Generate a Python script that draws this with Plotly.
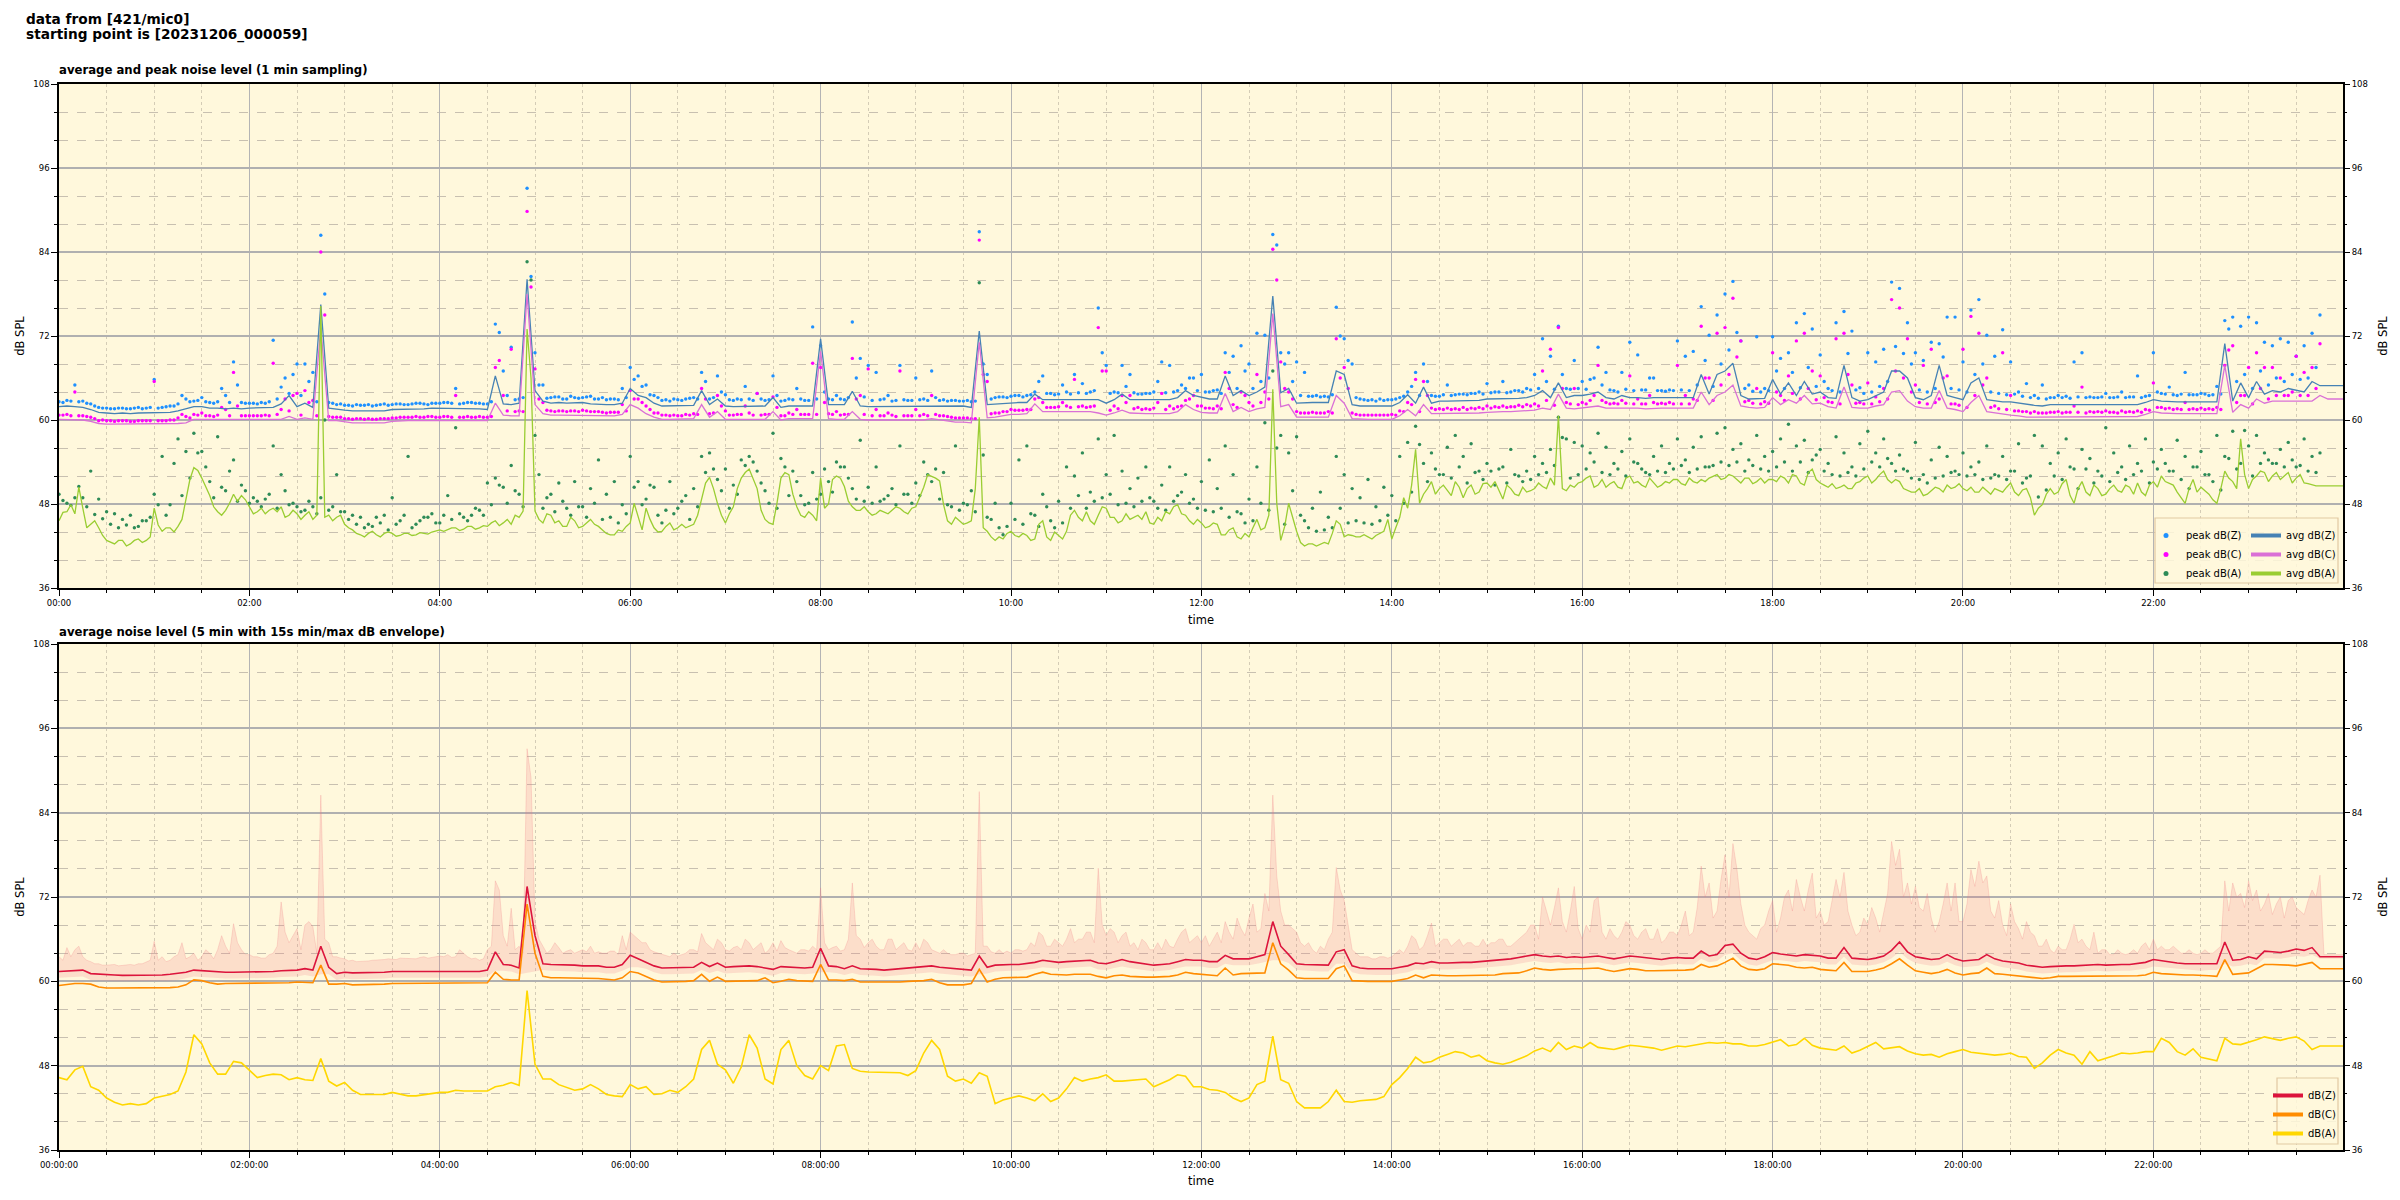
import pandas as pd
import plotly.graph_objects as go

START = "2023-12-06 00:00:00"
START_B = "2023-12-06 00:02:30"
END_VIEW = "2023-12-06 23:59:30"
STEP = "5min"
N = 289

# ---------------- top chart: 1 min sampling (read at 5 min steps) ----------------
avg_z = [
    61.9, 62.0, 61.9, 61.8, 61.5, 61.1, 61.0, 60.9, 61.0, 60.9, 61.0, 61.0,
    61.0, 61.0, 61.1, 61.3, 61.6, 61.9, 61.9, 61.7, 61.7, 61.6, 61.7, 61.6,
    61.7, 61.7, 61.7, 61.8, 62.3, 63.5, 61.9, 62.4, 61.8, 76.5, 61.7, 61.5,
    61.4, 61.3, 61.3, 61.3, 61.4, 61.3, 61.5, 61.5, 61.6, 61.5, 61.6, 61.7,
    61.7, 61.7, 61.6, 61.7, 61.7, 61.6, 61.5, 66.3, 62.3, 62.2, 62.4, 80.1,
    64.2, 62.7, 62.4, 62.5, 62.4, 62.4, 62.5, 62.3, 62.2, 62.2, 62.2, 62.4,
    64.5, 63.5, 63.2, 62.4, 62.0, 62.0, 62.0, 62.1, 62.1, 64.2, 62.2, 63.0,
    62.0, 61.9, 61.9, 62.0, 61.9, 62.0, 63.2, 61.8, 62.0, 62.0, 62.0, 62.0,
    71.6, 62.2, 62.2, 62.2, 64.1, 62.0, 61.9, 61.9, 61.9, 61.9, 61.9, 62.0,
    62.0, 62.0, 62.0, 62.0, 62.0, 62.0, 62.0, 61.8, 72.7, 62.2, 62.3, 62.3,
    62.5, 62.5, 62.5, 63.7, 62.9, 62.9, 62.9, 62.9, 62.9, 63.0, 63.0, 62.9,
    62.4, 62.9, 63.7, 62.9, 62.9, 62.9, 62.8, 62.9, 62.9, 63.2, 64.2, 63.5,
    63.2, 63.0, 63.0, 66.3, 63.5, 64.2, 63.5, 64.0, 64.7, 77.7, 63.9, 64.5,
    62.4, 62.5, 62.5, 62.5, 62.5, 67.0, 66.5, 62.2, 62.0, 62.0, 62.0, 62.0,
    62.0, 62.5, 63.6, 62.4, 64.7, 62.4, 62.7, 62.7, 62.7, 62.7, 62.8, 62.8,
    63.0, 63.0, 63.0, 63.0, 63.1, 63.2, 63.5, 64.2, 63.2, 65.3, 63.2, 63.5,
    63.5, 63.7, 64.0, 63.2, 63.0, 63.5, 63.2, 63.2, 63.1, 63.2, 63.2, 63.2,
    63.2, 63.2, 63.2, 66.5, 63.7, 66.5, 67.0, 68.1, 63.5, 63.0, 63.1, 63.1,
    65.8, 63.7, 65.3, 63.5, 65.5, 63.7, 64.0, 63.2, 63.1, 67.8, 63.2, 62.7,
    62.9, 63.5, 64.0, 67.0, 67.0, 66.0, 63.2, 62.9, 63.5, 67.8, 63.5, 63.2,
    62.9, 65.3, 66.0, 62.9, 62.7, 62.6, 62.6, 62.4, 62.2, 62.1, 62.0, 62.2,
    62.2, 62.2, 62.2, 62.2, 62.2, 62.2, 62.2, 62.2, 62.2, 62.2, 62.2, 62.5,
    62.9, 62.7, 62.6, 62.6, 62.6, 62.6, 62.6, 62.6, 62.6, 70.9, 62.7, 65.3,
    63.2, 65.5, 63.7, 64.2, 64.0, 64.5, 64.2, 64.0, 65.5, 64.9, 64.9, 64.9,
    64.9,
]
avg_c = [
    60.1, 60.1, 60.1, 60.0, 59.8, 59.5, 59.4, 59.4, 59.4, 59.4, 59.4, 59.4,
    59.4, 59.4, 59.4, 59.5, 59.6, 60.1, 60.1, 60.1, 60.0, 60.0, 60.1, 60.1,
    60.1, 60.1, 60.1, 60.1, 60.1, 60.5, 60.1, 60.3, 60.1, 73.2, 59.9, 59.9,
    59.7, 59.6, 59.6, 59.6, 59.6, 59.6, 59.8, 59.9, 59.9, 59.9, 59.9, 59.9,
    59.9, 59.9, 59.9, 59.9, 59.9, 59.9, 59.9, 62.4, 60.7, 60.6, 60.6, 78.0,
    62.2, 60.9, 60.7, 60.7, 60.7, 60.7, 60.7, 60.7, 60.6, 60.6, 60.6, 60.8,
    62.2, 61.7, 60.9, 60.4, 60.1, 60.1, 60.1, 60.1, 60.2, 62.2, 60.4, 61.2,
    60.1, 60.1, 60.1, 60.1, 60.1, 60.1, 61.2, 60.0, 60.2, 60.2, 60.2, 60.2,
    69.8, 60.2, 60.1, 60.1, 61.2, 60.1, 60.0, 60.0, 60.0, 59.9, 60.0, 60.0,
    60.0, 60.0, 60.2, 60.0, 59.8, 59.7, 59.7, 59.6, 71.1, 60.3, 60.4, 60.6,
    60.8, 60.8, 60.9, 62.3, 61.2, 61.2, 61.2, 61.2, 61.2, 61.2, 61.2, 61.0,
    60.7, 61.0, 61.4, 61.0, 60.9, 60.9, 60.9, 60.9, 60.9, 61.2, 62.2, 61.5,
    61.1, 61.0, 61.0, 63.8, 61.2, 61.8, 61.2, 61.6, 61.8, 75.2, 61.9, 62.2,
    60.4, 60.4, 60.4, 60.4, 60.4, 63.5, 62.4, 60.2, 60.1, 60.1, 60.1, 60.1,
    60.1, 60.6, 61.5, 60.6, 62.2, 60.9, 60.9, 60.9, 60.9, 60.9, 60.9, 61.0,
    61.1, 61.2, 61.2, 61.2, 61.3, 61.4, 61.4, 61.7, 61.5, 63.7, 61.7, 61.6,
    61.7, 61.8, 62.0, 61.7, 61.7, 61.8, 61.7, 61.7, 61.6, 61.7, 61.7, 61.7,
    61.7, 61.7, 61.7, 64.0, 62.2, 63.5, 64.0, 65.0, 62.0, 61.8, 61.7, 61.8,
    63.2, 62.2, 62.9, 62.4, 63.5, 62.3, 62.4, 61.9, 61.7, 64.7, 61.8, 61.7,
    61.7, 62.0, 62.2, 64.0, 64.2, 62.7, 61.9, 61.7, 61.7, 64.2, 61.7, 61.5,
    61.2, 62.5, 63.5, 61.2, 61.0, 60.9, 60.7, 60.6, 60.4, 60.4, 60.4, 60.5,
    60.4, 60.5, 60.5, 60.4, 60.5, 60.5, 60.5, 60.4, 60.5, 60.5, 60.5, 60.8,
    61.2, 61.0, 60.9, 60.9, 60.9, 60.9, 60.9, 60.9, 60.9, 67.8, 61.1, 62.2,
    61.7, 63.0, 62.4, 62.7, 62.7, 62.7, 62.7, 62.7, 62.7, 63.5, 63.0, 63.0,
    63.0,
]
avg_a = [
    45.6, 46.9, 46.6, 47.4, 45.1, 44.6, 42.8, 42.3, 42.8, 42.3, 43.0, 42.8,
    47.4, 44.1, 44.6, 44.8, 48.9, 53.2, 51.7, 49.2, 46.9, 47.1, 49.4, 49.2,
    47.6, 46.9, 46.6, 47.4, 47.6, 46.4, 46.6, 46.4, 45.8, 76.3, 46.4, 46.1,
    45.1, 44.3, 43.6, 43.8, 43.6, 43.8, 43.8, 43.5, 43.8, 43.6, 43.8, 44.0,
    44.3, 44.3, 44.6, 44.4, 44.8, 44.6, 44.8, 45.6, 45.3, 45.1, 46.1, 73.0,
    47.0, 45.3, 46.4, 45.6, 44.8, 45.6, 44.8, 45.8, 44.8, 43.8, 43.6, 44.1,
    45.3, 46.0, 47.4, 44.6, 44.1, 45.3, 44.6, 44.6, 45.1, 48.7, 51.8, 48.1,
    45.3, 47.6, 51.7, 53.0, 50.2, 45.8, 45.1, 51.7, 52.2, 47.6, 46.1, 46.4,
    51.7, 48.0, 52.0, 50.5, 47.6, 47.1, 46.9, 46.6, 46.9, 47.1, 47.4, 46.6,
    47.6, 50.4, 52.0, 51.3, 45.6, 46.1, 45.1, 45.6, 60.4, 44.1, 42.8, 43.0,
    44.1, 43.3, 43.5, 43.0, 45.6, 42.8, 43.5, 44.1, 47.1, 45.6, 45.6, 46.4,
    47.4, 46.1, 45.6, 45.8, 46.4, 46.9, 45.1, 45.6, 46.6, 47.9, 46.4, 45.1,
    45.3, 44.8, 45.1, 43.6, 44.6, 43.0, 43.3, 45.8, 44.6, 64.4, 42.8, 48.1,
    44.1, 42.0, 42.3, 42.3, 42.3, 45.6, 43.3, 43.5, 43.3, 43.3, 43.5, 44.1,
    43.0, 46.1, 47.4, 55.8, 49.4, 51.2, 50.2, 49.9, 51.2, 48.9, 50.7, 49.7,
    51.0, 51.2, 48.7, 50.2, 49.2, 49.7, 50.2, 50.5, 51.7, 60.6, 49.9, 50.4,
    51.2, 52.0, 50.7, 50.4, 51.2, 50.2, 52.0, 51.2, 50.4, 51.0, 50.7, 51.0,
    51.5, 50.7, 51.2, 51.5, 51.7, 52.2, 51.7, 52.0, 51.0, 51.7, 51.2, 51.0,
    51.5, 52.0, 51.0, 52.0, 50.7, 53.0, 51.0, 50.4, 50.2, 50.7, 50.2, 51.2,
    52.0, 51.5, 52.7, 51.0, 51.2, 49.9, 49.7, 49.2, 49.9, 50.2, 50.7, 50.4,
    50.2, 50.4, 49.7, 49.9, 50.2, 49.7, 51.0, 49.2, 50.2, 46.4, 47.9, 50.2,
    49.7, 51.5, 48.1, 51.2, 49.2, 50.2, 49.4, 50.7, 49.7, 50.4, 51.0, 49.2,
    51.2, 52.0, 51.0, 49.7, 48.1, 51.5, 50.4, 49.4, 48.1, 52.7, 51.2, 57.3,
    50.2, 52.0, 52.5, 52.0, 51.5, 52.5, 51.7, 51.0, 50.7, 50.6, 50.6, 50.6,
    50.6,
]
# avg dB(A) read half-way between the 5-min marks (2.5 min later)
avg_a_b = [
    46.8, 47.9, 50.4, 44.6, 45.6, 43.5, 42.5, 42.8, 42.0, 42.8, 42.5, 43.3,
    45.0, 44.6, 44.0, 45.8, 51.5, 52.8, 50.4, 47.6, 46.4, 48.1, 48.4, 48.6,
    46.6, 47.4, 47.1, 46.9, 46.1, 47.1, 45.8, 46.9, 46.4, 46.1, 45.6, 46.4,
    44.6, 43.8, 43.3, 44.1, 43.3, 44.0, 43.4, 43.8, 43.5, 43.9, 43.7, 44.2,
    44.1, 44.6, 44.2, 44.8, 44.4, 44.9, 45.3, 44.9, 45.8, 46.4, 47.0, 66.0,
    45.8, 46.6, 45.3, 44.8, 46.1, 44.6, 45.3, 45.1, 44.3, 43.6, 44.3, 44.8,
    48.1, 44.3, 45.8, 44.0, 44.8, 44.3, 45.1, 44.8, 46.4, 51.0, 50.2, 46.4,
    46.6, 50.2, 52.5, 51.7, 47.1, 45.3, 48.1, 52.5, 49.4, 46.4, 46.9, 45.6,
    47.4, 51.5, 51.7, 48.4, 47.1, 47.6, 46.4, 47.1, 46.6, 47.6, 46.9, 47.4,
    48.9, 52.2, 51.7, 47.9, 45.1, 45.6, 45.3, 50.2, 44.6, 43.3, 43.3, 43.8,
    43.5, 43.8, 42.8, 45.1, 43.3, 44.0, 43.0, 46.4, 46.1, 46.9, 45.1, 47.6,
    46.1, 45.3, 46.6, 46.1, 45.8, 45.3, 46.1, 46.9, 47.6, 46.6, 45.6, 45.8,
    44.6, 45.3, 43.6, 44.3, 43.3, 43.8, 44.6, 44.3, 46.4, 48.1, 44.8, 46.1,
    42.5, 42.3, 42.0, 42.5, 43.8, 45.1, 43.6, 43.3, 43.6, 43.0, 43.8, 45.8,
    44.6, 48.9, 50.7, 48.1, 50.2, 49.4, 50.7, 49.2, 50.4, 50.2, 49.4, 50.9,
    50.4, 49.9, 50.7, 49.4, 50.4, 49.9, 51.0, 50.2, 50.7, 50.2, 50.7, 51.0,
    51.7, 50.4, 51.5, 50.9, 50.4, 51.7, 51.0, 50.7, 51.7, 50.4, 51.2, 51.5,
    50.9, 51.7, 51.0, 51.2, 52.0, 51.5, 52.2, 51.5, 51.7, 50.9, 51.7, 51.5,
    51.2, 51.7, 52.2, 51.0, 52.5, 51.5, 50.7, 50.9, 50.4, 50.2, 51.0, 51.7,
    51.0, 52.2, 51.5, 51.5, 50.2, 49.7, 50.2, 49.4, 50.4, 49.7, 50.2, 50.9,
    49.9, 49.7, 50.4, 49.4, 49.9, 50.4, 49.7, 50.0, 48.9, 47.4, 49.4, 49.4,
    50.9, 49.2, 50.2, 49.7, 50.7, 49.2, 50.2, 49.9, 50.7, 49.4, 49.7, 50.7,
    50.4, 51.2, 50.7, 48.9, 50.2, 49.7, 49.9, 48.6, 50.2, 51.7, 50.2, 52.2,
    51.5, 52.7, 51.2, 52.5, 52.0, 51.0, 52.2, 50.9, 50.6, 50.6, 50.6, 50.6,
    50.6,
]
# peaks read on the 5-min marks ...
peak_z = [
    62.6, 62.8, 65.0, 62.7, 62.3, 61.8, 61.7, 61.6, 61.7, 61.6, 61.8, 61.7,
    65.8, 61.8, 62.0, 62.3, 63.0, 62.7, 63.2, 62.5, 62.6, 63.5, 68.3, 62.5,
    62.4, 62.3, 62.4, 71.4, 64.7, 63.8, 68.0, 68.0, 66.8, 86.4, 62.5, 62.2,
    62.1, 62.0, 62.1, 62.2, 62.1, 62.3, 62.2, 62.3, 62.2, 62.4, 62.3, 62.4,
    62.4, 62.5, 64.5, 62.4, 62.5, 62.4, 62.3, 73.7, 67.0, 70.4, 63.0, 93.1,
    69.6, 65.0, 63.2, 63.3, 63.0, 63.2, 63.2, 63.4, 63.0, 62.9, 63.0, 64.5,
    67.5, 66.3, 65.0, 63.5, 62.8, 62.7, 62.9, 63.0, 63.2, 66.8, 63.0, 66.3,
    63.6, 62.8, 62.9, 63.0, 63.8, 62.8, 66.3, 62.7, 63.0, 64.5, 62.8, 73.3,
    70.6, 63.0, 63.5, 62.9, 74.0, 68.8, 67.8, 66.8, 63.0, 62.7, 67.8, 62.8,
    66.0, 63.0, 67.0, 62.8, 62.7, 62.8, 62.7, 62.6, 86.9, 66.5, 63.2, 63.3,
    63.4, 63.5, 63.5, 64.0, 66.3, 63.8, 63.7, 64.0, 66.5, 65.2, 64.0, 76.0,
    67.8, 64.0, 67.8, 66.5, 63.7, 63.8, 64.0, 68.3, 67.8, 64.2, 64.5, 66.0,
    66.5, 64.0, 64.3, 69.6, 69.1, 70.6, 68.0, 72.4, 72.1, 86.5, 69.6, 69.6,
    68.3, 66.8, 63.4, 63.3, 63.3, 76.1, 71.6, 68.0, 63.0, 62.8, 62.7, 62.8,
    62.9, 63.2, 64.0, 66.8, 68.0, 63.5, 63.4, 65.0, 63.6, 63.7, 63.8, 64.0,
    65.2, 64.0, 65.5, 64.0, 64.2, 64.5, 66.5, 71.6, 69.1, 73.4, 64.5, 68.5,
    65.5, 65.8, 70.4, 66.8, 64.2, 66.8, 71.1, 69.3, 64.3, 66.0, 64.2, 64.3,
    71.3, 69.1, 69.8, 76.2, 72.1, 75.0, 78.0, 79.8, 71.3, 65.0, 71.9, 64.5,
    71.9, 68.8, 69.6, 73.9, 75.2, 73.0, 69.3, 64.5, 73.9, 75.5, 72.7, 64.6,
    69.6, 68.3, 70.1, 79.7, 78.8, 73.9, 69.6, 68.5, 71.1, 70.9, 74.7, 74.7,
    68.3, 75.7, 77.2, 72.1, 69.1, 72.9, 68.3, 64.0, 65.2, 63.5, 65.0, 63.2,
    63.5, 63.4, 68.3, 69.6, 63.3, 63.2, 63.8, 63.2, 64.0, 63.3, 66.3, 63.4,
    69.6, 63.8, 64.7, 63.5, 66.8, 63.6, 63.8, 63.5, 64.8, 74.2, 74.7, 73.4,
    74.7, 73.9, 71.1, 70.6, 71.6, 71.1, 69.1, 70.6, 72.4, 75.0, None, None,
    None,
]
peak_c = [
    60.7, 60.8, 64.0, 60.6, 60.4, 59.9, 59.9, 59.8, 59.9, 59.8, 59.9, 59.9,
    65.5, 59.9, 60.0, 60.3, 60.5, 60.8, 61.0, 60.6, 60.7, 61.5, 66.8, 60.6,
    60.6, 60.6, 60.7, 68.1, 61.5, 61.3, 63.8, 64.2, 62.8, 84.0, 60.5, 60.4,
    60.2, 60.1, 60.2, 60.2, 60.1, 60.2, 60.3, 60.4, 60.4, 60.5, 60.4, 60.5,
    60.4, 60.5, 63.5, 60.4, 60.4, 60.5, 60.4, 67.5, 63.5, 70.1, 61.3, 89.8,
    67.3, 62.5, 61.3, 61.3, 61.2, 61.3, 61.4, 61.2, 61.2, 61.0, 61.1, 62.2,
    64.2, 63.0, 62.0, 61.0, 60.7, 60.6, 60.6, 60.8, 60.9, 64.5, 60.9, 63.5,
    61.3, 60.7, 60.8, 61.0, 63.8, 60.8, 63.3, 60.6, 61.0, 61.5, 60.8, 68.1,
    67.5, 60.9, 61.2, 60.8, 68.8, 63.5, 67.3, 61.5, 60.6, 60.7, 67.0, 60.6,
    61.5, 60.8, 63.5, 60.6, 60.5, 60.3, 60.3, 60.2, 85.7, 65.5, 61.0, 61.2,
    61.5, 61.4, 61.5, 63.0, 62.5, 61.8, 61.9, 62.0, 65.8, 62.0, 61.9, 73.2,
    67.0, 62.0, 63.5, 63.5, 61.8, 61.6, 61.7, 63.8, 62.0, 61.9, 62.8, 63.5,
    62.0, 61.7, 62.0, 66.8, 62.2, 64.0, 62.5, 66.5, 64.0, 84.4, 68.3, 64.0,
    61.2, 61.0, 61.1, 61.0, 61.2, 71.6, 67.5, 61.0, 60.7, 60.7, 60.7, 60.7,
    60.8, 61.3, 62.5, 65.8, 65.5, 61.7, 61.6, 61.7, 61.6, 61.8, 61.7, 61.8,
    62.0, 61.9, 62.0, 61.9, 62.1, 62.2, 62.3, 67.0, 70.1, 73.2, 62.5, 64.5,
    62.5, 62.8, 67.8, 62.5, 62.4, 62.8, 66.3, 63.0, 62.3, 62.5, 62.4, 62.5,
    67.8, 63.5, 63.0, 73.4, 66.0, 72.4, 73.2, 77.4, 71.3, 62.8, 64.5, 62.6,
    69.6, 63.5, 66.3, 71.3, 72.4, 67.0, 66.3, 62.6, 71.6, 72.4, 65.0, 62.5,
    65.3, 63.3, 64.5, 77.2, 76.0, 71.6, 65.0, 67.8, 70.1, 63.0, 66.3, 62.3,
    70.1, 74.8, 72.4, 66.0, 62.0, 69.6, 63.5, 61.3, 61.2, 61.2, 61.0, 61.1,
    61.2, 61.1, 62.0, 64.7, 61.2, 61.2, 61.3, 61.1, 61.3, 61.2, 61.3, 61.5,
    65.3, 61.8, 61.7, 61.6, 62.5, 61.6, 61.7, 61.6, 61.8, 67.8, 70.6, 63.5,
    67.5, 69.6, 67.5, 67.5, 66.0, 63.5, 69.1, 66.8, 67.5, 70.9, None, None,
    None,
]
peak_a = [
    49.4, 48.1, 48.9, 48.9, 52.7, 48.7, 46.9, 46.6, 45.8, 46.4, 44.8, 45.6,
    49.4, 54.8, 47.9, 57.3, 55.5, 58.1, 55.5, 51.2, 57.6, 49.9, 54.3, 50.7,
    48.1, 48.4, 48.7, 56.3, 52.2, 47.9, 47.6, 47.1, 47.6, 48.9, 47.1, 52.2,
    46.9, 46.4, 46.1, 45.1, 46.1, 46.4, 48.9, 45.6, 54.8, 45.1, 46.1, 46.6,
    45.3, 49.2, 58.9, 46.1, 46.4, 47.1, 51.0, 51.7, 50.4, 53.5, 49.4, 82.6,
    57.8, 47.4, 49.4, 51.0, 47.4, 51.2, 47.6, 50.2, 54.3, 49.4, 51.2, 47.9,
    54.8, 51.2, 48.7, 50.4, 45.3, 51.2, 47.4, 49.2, 50.2, 54.8, 55.3, 51.5,
    53.0, 50.7, 54.3, 54.8, 52.7, 49.9, 58.1, 54.5, 49.2, 51.2, 47.9, 52.5,
    49.4, 51.2, 54.0, 53.3, 50.2, 57.1, 50.4, 53.3, 48.7, 50.2, 56.3, 49.4,
    51.0, 54.0, 51.2, 48.7, 47.9, 56.3, 48.1, 49.9, 79.6, 46.1, 48.1, 43.6,
    48.1, 54.3, 56.3, 46.4, 49.4, 45.6, 48.4, 53.3, 52.0, 55.3, 49.7, 57.3,
    52.2, 57.8, 52.7, 50.2, 51.7, 53.3, 48.4, 50.7, 53.3, 49.2, 52.2, 48.7,
    51.2, 54.3, 50.2, 56.3, 52.2, 46.6, 48.7, 53.3, 59.6, 67.0, 57.8, 55.3,
    57.6, 45.6, 47.4, 49.7, 46.1, 54.8, 52.2, 50.2, 48.9, 51.5, 47.6, 50.4,
    49.2, 54.8, 56.8, 59.1, 53.8, 55.3, 52.2, 56.1, 57.8, 54.8, 56.6, 52.7,
    53.8, 50.7, 53.3, 55.8, 52.0, 52.7, 54.8, 53.8, 55.8, 60.4, 57.3, 56.8,
    56.3, 55.3, 58.1, 56.1, 53.8, 55.5, 57.3, 53.8, 52.5, 54.8, 56.3, 53.8,
    57.3, 54.3, 56.1, 57.6, 53.3, 58.1, 58.9, 55.8, 56.6, 54.3, 57.8, 54.8,
    55.5, 57.3, 59.4, 56.3, 57.1, 54.3, 55.8, 53.8, 57.6, 55.3, 53.3, 56.6,
    58.4, 55.3, 57.3, 53.8, 55.0, 52.7, 56.8, 52.2, 54.3, 56.1, 54.8, 52.7,
    55.3, 53.3, 54.0, 56.3, 52.2, 54.8, 52.7, 56.6, 51.7, 57.8, 56.3, 53.8,
    55.3, 57.3, 53.0, 55.8, 54.5, 52.7, 58.9, 55.3, 53.3, 56.3, 53.8, 57.3,
    54.0, 55.8, 52.7, 57.1, 54.8, 53.3, 55.5, 52.2, 57.8, 54.8, 58.4, 53.8,
    56.3, 57.8, 55.3, 53.8, 55.8, 56.8, 53.3, 57.3, 54.8, 55.3, None, None,
    None,
]
# ... and half-way between them (2.5 min later)
peak_z_b = [
    62.5, 62.7, 62.6, 62.4, 62.0, 61.7, 61.6, 61.7, 61.6, 61.7, 61.6, 61.8,
    61.7, 61.9, 62.0, 63.5, 62.6, 62.8, 62.6, 62.4, 64.5, 62.5, 65.0, 62.4,
    62.4, 62.5, 62.6, 63.0, 66.0, 66.5, 63.5, 65.5, 62.6, 78.0, 62.4, 62.3,
    62.1, 62.2, 62.1, 62.0, 62.2, 62.1, 62.3, 62.2, 62.3, 62.4, 62.2, 62.4,
    62.5, 62.4, 62.3, 62.5, 62.4, 62.3, 62.6, 72.5, 63.5, 62.9, 63.2, 80.5,
    65.0, 63.1, 63.3, 63.0, 63.4, 63.1, 63.3, 63.0, 63.2, 63.0, 62.9, 63.2,
    65.8, 64.8, 63.6, 63.2, 62.9, 63.0, 62.8, 63.1, 63.0, 65.5, 63.2, 64.0,
    62.9, 63.0, 64.8, 62.8, 63.0, 62.9, 63.5, 62.8, 62.9, 63.0, 62.8, 63.0,
    64.0, 62.9, 63.0, 63.2, 66.0, 63.3, 62.8, 62.9, 63.5, 62.8, 62.9, 62.8,
    62.9, 62.8, 63.2, 62.9, 62.8, 62.7, 62.8, 62.7, 68.0, 63.0, 63.3, 63.2,
    63.5, 63.3, 63.6, 65.5, 63.8, 63.6, 65.0, 63.7, 63.9, 63.8, 64.2, 69.6,
    63.8, 63.9, 64.8, 63.9, 63.7, 63.8, 65.5, 63.9, 64.0, 65.0, 66.0, 64.2,
    64.0, 64.2, 63.8, 66.8, 64.5, 67.0, 64.5, 65.5, 66.0, 85.0, 68.0, 65.5,
    63.5, 63.4, 63.5, 63.4, 63.6, 72.0, 68.5, 63.2, 62.9, 62.9, 63.0, 62.9,
    63.0, 63.4, 64.8, 63.5, 65.5, 63.4, 63.6, 63.5, 63.7, 63.6, 63.8, 63.7,
    63.9, 64.0, 63.9, 64.2, 64.0, 64.3, 64.5, 65.5, 64.4, 66.5, 64.4, 64.5,
    64.4, 66.0, 65.0, 64.3, 64.0, 64.4, 64.2, 64.3, 66.0, 64.2, 64.1, 64.2,
    64.3, 64.2, 65.0, 68.5, 64.8, 68.0, 70.0, 72.5, 64.5, 64.1, 64.0, 64.2,
    67.0, 64.5, 66.8, 64.6, 67.5, 64.8, 65.5, 64.2, 64.0, 69.5, 64.3, 63.8,
    64.0, 64.8, 65.5, 70.5, 69.5, 68.0, 64.3, 64.0, 64.5, 69.0, 64.5, 64.3,
    64.0, 66.5, 68.0, 64.0, 63.8, 63.6, 63.7, 63.4, 63.2, 63.1, 63.0, 63.2,
    63.2, 63.1, 63.3, 63.2, 63.2, 63.3, 63.2, 63.3, 63.2, 63.3, 63.2, 63.5,
    64.0, 63.7, 63.6, 63.7, 63.6, 63.6, 63.7, 63.6, 63.7, 73.0, 65.5, 66.5,
    64.5, 67.0, 65.0, 66.0, 65.5, 66.5, 65.8, 66.0, 67.5, None, None, None,
    None,
]
peak_c_b = [
    60.7, 60.6, 60.6, 60.5, 60.2, 60.0, 59.9, 59.9, 59.9, 59.8, 59.9, 59.9,
    59.9, 59.9, 60.0, 60.8, 60.3, 60.7, 60.6, 60.5, 61.8, 60.6, 62.0, 60.6,
    60.6, 60.6, 60.6, 60.8, 63.0, 63.5, 60.7, 62.5, 60.6, 75.0, 60.4, 60.4,
    60.2, 60.2, 60.1, 60.1, 60.2, 60.2, 60.3, 60.4, 60.4, 60.4, 60.5, 60.4,
    60.5, 60.4, 60.4, 60.5, 60.4, 60.4, 60.5, 68.5, 61.3, 61.2, 61.2, 79.0,
    63.0, 61.4, 61.2, 61.3, 61.3, 61.2, 61.3, 61.2, 61.1, 61.1, 61.1, 61.3,
    63.0, 62.5, 61.5, 61.0, 60.7, 60.7, 60.6, 60.7, 60.8, 63.0, 61.0, 62.0,
    60.7, 60.8, 62.0, 60.7, 60.7, 60.8, 61.8, 60.6, 60.8, 60.8, 60.8, 60.8,
    62.5, 60.8, 60.7, 60.8, 63.0, 60.8, 60.6, 60.6, 61.0, 60.5, 60.6, 60.6,
    60.6, 60.6, 60.8, 60.6, 60.4, 60.3, 60.3, 60.2, 66.5, 60.9, 61.0, 61.2,
    61.4, 61.4, 61.5, 63.2, 61.8, 61.8, 62.5, 61.8, 61.9, 61.8, 62.0, 67.0,
    61.4, 61.6, 62.5, 61.6, 61.5, 61.5, 62.5, 61.5, 61.6, 62.0, 63.0, 62.0,
    61.7, 61.6, 61.6, 64.5, 61.8, 63.5, 62.0, 62.5, 63.0, 80.0, 64.5, 63.0,
    61.0, 61.0, 61.0, 61.0, 61.0, 66.0, 64.5, 60.8, 60.7, 60.7, 60.7, 60.7,
    60.7, 61.2, 62.2, 61.2, 63.5, 61.5, 61.5, 61.5, 61.5, 61.5, 61.6, 61.6,
    61.7, 61.8, 61.8, 61.9, 61.9, 62.0, 62.0, 62.8, 62.1, 64.5, 62.3, 62.2,
    62.3, 63.5, 62.8, 62.3, 62.3, 62.4, 62.3, 62.3, 63.5, 62.3, 62.3, 62.3,
    62.3, 62.3, 62.8, 66.0, 62.8, 65.0, 66.5, 69.0, 62.6, 62.4, 62.3, 62.4,
    64.0, 62.8, 63.8, 63.0, 64.5, 62.9, 63.2, 62.5, 62.3, 66.5, 62.4, 62.3,
    62.3, 62.6, 63.0, 67.0, 66.0, 64.0, 62.5, 62.3, 62.5, 66.0, 62.3, 62.1,
    61.8, 63.5, 65.0, 61.8, 61.6, 61.5, 61.3, 61.2, 61.0, 61.0, 61.0, 61.1,
    61.0, 61.1, 61.1, 61.0, 61.1, 61.1, 61.1, 61.0, 61.1, 61.1, 61.1, 61.4,
    61.8, 61.6, 61.5, 61.5, 61.5, 61.5, 61.5, 61.5, 61.5, 70.0, 62.5, 63.5,
    62.3, 64.5, 63.0, 63.5, 63.5, 64.0, 63.5, 63.5, 64.5, None, None, None,
    None,
]
peak_a_b = [
    48.5, 47.8, 50.5, 47.6, 46.5, 45.9, 45.1, 44.6, 45.0, 44.6, 45.6, 46.1,
    47.9, 46.4, 53.8, 49.2, 51.7, 55.3, 53.3, 48.9, 50.4, 52.7, 48.4, 49.9,
    48.9, 47.6, 49.4, 47.4, 49.9, 48.1, 46.9, 48.4, 46.6, 60.0, 47.6, 46.9,
    45.8, 45.1, 44.6, 44.8, 45.3, 44.3, 45.1, 46.4, 44.6, 45.6, 46.1, 45.3,
    46.4, 45.8, 46.6, 45.6, 47.4, 46.4, 47.9, 50.7, 48.1, 49.9, 47.6, 80.0,
    52.2, 48.9, 46.9, 48.4, 46.4, 47.6, 46.1, 48.1, 45.8, 46.1, 45.3, 46.6,
    50.4, 47.9, 50.7, 46.4, 47.1, 46.6, 48.4, 45.8, 47.6, 52.5, 53.0, 49.9,
    47.4, 49.4, 53.5, 54.0, 51.0, 48.1, 47.4, 53.3, 52.7, 49.2, 48.1, 48.7,
    53.0, 49.7, 53.3, 51.7, 48.7, 48.4, 48.1, 48.4, 49.2, 47.9, 49.4, 48.1,
    49.2, 52.2, 53.0, 52.5, 47.6, 47.1, 47.9, 46.9, 55.0, 45.8, 44.6, 44.8,
    45.8, 45.1, 46.6, 44.8, 47.6, 44.6, 45.3, 47.4, 49.2, 47.4, 48.4, 48.9,
    49.4, 47.9, 48.1, 47.6, 48.4, 48.9, 47.4, 47.1, 48.4, 49.7, 48.1, 47.4,
    47.1, 46.9, 47.4, 46.1, 46.9, 45.3, 45.6, 48.1, 47.1, 56.0, 45.1, 49.9,
    46.4, 44.6, 44.1, 44.3, 44.6, 47.4, 45.3, 45.6, 45.3, 45.1, 45.6, 46.4,
    45.6, 48.1, 49.7, 56.5, 51.2, 53.0, 52.2, 51.7, 53.3, 51.0, 52.5, 51.5,
    52.7, 53.0, 51.0, 52.2, 51.2, 51.5, 52.2, 52.5, 53.5, 57.5, 51.7, 52.2,
    53.0, 54.0, 52.5, 52.2, 53.0, 52.0, 54.0, 53.0, 52.2, 52.7, 52.5, 53.0,
    53.5, 52.5, 53.0, 53.3, 53.5, 54.0, 53.5, 54.0, 52.7, 53.5, 53.0, 52.7,
    53.3, 54.0, 52.7, 54.0, 52.5, 55.0, 52.7, 52.2, 52.0, 52.5, 52.0, 53.0,
    54.0, 53.3, 54.5, 52.7, 53.0, 51.7, 51.5, 51.0, 51.7, 52.0, 52.5, 52.2,
    52.0, 52.2, 51.5, 51.7, 52.0, 51.5, 52.7, 51.0, 52.0, 49.0, 50.0, 52.0,
    51.5, 53.3, 50.2, 53.0, 51.0, 52.0, 51.2, 52.5, 51.5, 52.2, 52.7, 51.0,
    53.0, 53.8, 52.7, 51.5, 50.2, 53.3, 52.2, 51.2, 50.0, 54.5, 53.0, 58.5,
    52.0, 53.8, 54.3, 53.8, 53.3, 54.3, 53.5, 52.7, 52.5, None, None, None,
    None,
]

# ---------------- bottom chart: 5 min averages + 15 s envelope ----------------
lvl_z = [
    61.4, 61.5, 61.6, 61.6, 61.1, 61.0, 60.9, 60.9, 60.85, 60.85, 60.85, 60.85,
    60.9, 60.9, 61.0, 61.1, 61.3, 61.6, 61.5, 61.4, 61.4, 61.3, 61.3, 61.3,
    61.3, 61.3, 61.4, 61.4, 61.5, 61.5, 61.6, 61.8, 61.6, 65.0, 62.0, 61.1,
    61.3, 61.2, 61.2, 61.3, 61.3, 61.3, 61.4, 61.4, 61.4, 61.5, 61.5, 61.5,
    61.5, 61.5, 61.5, 61.5, 61.4, 61.4, 61.6, 64.2, 62.4, 62.3, 61.9, 73.5,
    66.5, 62.5, 62.4, 62.4, 62.4, 62.3, 62.2, 62.2, 62.2, 62.0, 62.0, 62.4,
    63.7, 63.2, 62.7, 62.2, 61.9, 61.9, 61.9, 62.0, 62.0, 62.7, 62.1, 62.6,
    62.0, 62.1, 62.2, 62.2, 62.1, 61.9, 61.7, 62.1, 62.0, 61.9, 61.9, 62.0,
    64.7, 62.2, 62.1, 61.8, 62.2, 61.8, 61.8, 61.7, 61.6, 61.7, 61.8, 61.9,
    61.9, 62.0, 62.2, 62.0, 61.9, 61.8, 61.8, 61.6, 63.6, 62.0, 62.3, 62.4,
    62.4, 62.4, 62.5, 62.7, 63.0, 62.8, 62.7, 62.8, 62.9, 63.0, 63.0, 62.6,
    62.5, 62.8, 63.1, 62.8, 62.6, 62.5, 62.3, 62.4, 62.5, 62.8, 63.1, 63.0,
    63.0, 62.8, 62.8, 63.7, 63.2, 63.2, 63.2, 63.5, 63.8, 68.5, 65.0, 63.8,
    62.5, 62.4, 62.4, 62.3, 62.3, 64.2, 64.5, 62.2, 61.9, 61.8, 61.8, 61.8,
    61.8, 62.0, 62.2, 62.6, 62.5, 62.8, 62.6, 62.6, 62.7, 62.7, 62.7, 62.8,
    62.8, 62.9, 63.0, 63.2, 63.4, 63.6, 63.8, 63.6, 63.5, 63.6, 63.4, 63.5,
    63.4, 63.5, 63.6, 63.4, 63.2, 63.4, 63.6, 63.5, 63.4, 63.2, 63.1, 63.3,
    63.4, 63.3, 63.3, 64.3, 63.6, 63.8, 65.1, 65.3, 64.0, 63.3, 63.1, 63.5,
    64.1, 63.9, 63.8, 63.6, 63.8, 63.7, 63.6, 63.3, 63.3, 64.8, 63.3, 63.2,
    63.1, 63.3, 63.6, 64.4, 65.6, 64.2, 63.5, 63.3, 63.1, 63.2, 63.8, 63.2,
    62.9, 63.0, 63.1, 63.8, 63.2, 62.9, 62.8, 62.6, 62.3, 62.1, 62.0, 62.1,
    62.2, 62.2, 62.2, 62.3, 62.4, 62.4, 62.3, 62.4, 62.4, 62.4, 62.5, 62.7,
    63.1, 62.9, 62.7, 62.6, 62.5, 62.5, 62.4, 62.5, 62.5, 65.6, 63.0, 63.1,
    63.5, 63.2, 64.3, 64.2, 64.1, 64.3, 64.6, 64.4, 64.8, 63.5, 63.5, 63.5,
    63.5,
]
lvl_c = [
    59.4, 59.6, 59.7, 59.7, 59.6, 59.2, 59.05, 59.05, 59.05, 59.05, 59.05, 59.05,
    59.1, 59.1, 59.1, 59.2, 59.5, 60.2, 60.1, 59.8, 59.6, 59.7, 59.7, 59.7,
    59.7, 59.7, 59.8, 59.8, 59.8, 59.8, 59.9, 59.8, 59.8, 62.3, 59.6, 59.6,
    59.7, 59.5, 59.5, 59.6, 59.6, 59.6, 59.7, 59.7, 59.7, 59.7, 59.8, 59.8,
    59.8, 59.8, 59.8, 59.8, 59.7, 59.7, 59.8, 61.3, 60.3, 60.2, 60.2, 71.0,
    64.0, 60.7, 60.5, 60.5, 60.5, 60.5, 60.5, 60.4, 60.4, 60.3, 60.2, 60.5,
    61.4, 61.2, 60.7, 60.2, 59.9, 59.9, 59.9, 60.0, 60.1, 61.0, 60.0, 60.6,
    60.0, 60.0, 60.0, 60.1, 60.1, 60.5, 59.8, 60.0, 60.3, 60.1, 60.0, 60.0,
    62.4, 60.2, 60.2, 60.1, 60.3, 59.9, 59.9, 59.9, 59.8, 59.9, 59.9, 60.0,
    60.0, 60.1, 60.3, 59.8, 59.5, 59.5, 59.5, 59.7, 61.7, 59.9, 60.3, 60.5,
    60.5, 60.6, 60.6, 61.0, 61.3, 61.0, 60.9, 60.9, 61.0, 61.0, 61.0, 60.7,
    60.5, 60.8, 60.9, 60.7, 60.6, 60.6, 60.6, 60.6, 60.7, 60.9, 61.3, 61.1,
    61.0, 60.9, 60.8, 61.9, 60.9, 61.1, 61.1, 61.1, 61.2, 65.5, 62.5, 61.6,
    60.5, 60.4, 60.4, 60.4, 60.4, 61.8, 62.2, 60.1, 60.0, 60.0, 60.0, 60.0,
    60.0, 60.2, 60.4, 60.9, 60.5, 60.9, 60.8, 60.8, 60.8, 60.8, 60.8, 60.8,
    60.8, 60.9, 61.1, 61.1, 61.2, 61.5, 61.9, 61.7, 61.6, 61.7, 61.8, 61.8,
    61.8, 61.8, 61.9, 61.6, 61.4, 61.6, 61.8, 61.7, 61.5, 61.5, 61.5, 61.6,
    61.6, 61.6, 61.7, 62.4, 62.0, 62.2, 62.7, 63.3, 62.2, 61.7, 61.6, 61.8,
    62.5, 62.4, 62.3, 62.0, 61.9, 62.0, 61.7, 61.6, 61.5, 62.7, 61.4, 61.4,
    61.4, 61.6, 61.9, 62.5, 63.2, 62.3, 61.5, 61.3, 61.1, 61.3, 61.7, 61.2,
    60.9, 61.1, 61.2, 61.9, 61.1, 61.0, 60.9, 60.8, 60.7, 60.5, 60.4, 60.5,
    60.7, 60.7, 60.7, 60.7, 60.7, 60.7, 60.7, 60.7, 60.8, 60.8, 60.8, 60.9,
    61.3, 61.1, 61.0, 61.0, 60.9, 60.9, 60.9, 60.8, 60.7, 63.1, 61.0, 61.1,
    61.2, 61.8, 62.4, 62.4, 62.4, 62.3, 62.2, 62.5, 62.7, 61.8, 61.8, 61.8,
    61.8,
]
lvl_a = [
    46.3, 46.0, 47.4, 47.9, 45.0, 44.5, 43.4, 42.8, 42.4, 42.6, 42.4, 42.6,
    43.4, 43.7, 43.9, 44.4, 47.1, 52.4, 51.1, 48.4, 46.8, 46.8, 48.6, 48.4,
    47.4, 46.3, 46.6, 46.8, 46.7, 46.0, 46.3, 46.0, 45.9, 49.0, 45.8, 45.1,
    45.6, 44.5, 43.9, 43.9, 43.9, 43.9, 44.2, 43.9, 43.7, 43.7, 43.9, 44.1,
    44.2, 44.2, 44.5, 44.4, 44.4, 44.4, 44.4, 45.0, 45.2, 45.6, 45.2, 58.7,
    48.2, 46.1, 46.1, 45.3, 44.9, 44.5, 44.7, 45.3, 44.7, 43.9, 43.7, 43.6,
    45.3, 44.7, 45.0, 43.9, 44.0, 44.5, 44.2, 45.0, 46.1, 50.3, 51.6, 48.2,
    47.4, 45.5, 47.8, 52.4, 50.5, 46.1, 45.4, 50.3, 51.6, 48.0, 46.6, 46.1,
    48.0, 47.3, 50.8, 51.0, 47.6, 47.2, 47.1, 47.1, 47.0, 47.1, 47.0, 46.6,
    47.3, 49.8, 51.6, 50.3, 46.5, 45.8, 46.1, 45.5, 47.0, 46.5, 42.6, 43.1,
    43.4, 43.7, 43.4, 43.0, 44.0, 42.9, 43.4, 44.7, 46.3, 45.8, 46.1, 46.3,
    46.7, 45.8, 45.8, 45.9, 46.0, 46.1, 45.0, 45.5, 46.0, 46.7, 46.5, 45.0,
    45.0, 44.6, 44.5, 44.2, 43.4, 42.9, 43.4, 45.3, 45.8, 52.2, 46.0, 45.5,
    42.9, 42.0, 42.0, 42.0, 42.9, 44.5, 42.9, 42.8, 43.0, 43.1, 43.2, 43.6,
    45.3, 46.3, 47.6, 49.2, 48.4, 48.6, 49.2, 49.6, 50.0, 49.8, 49.2, 49.5,
    48.7, 48.4, 48.2, 48.5, 49.0, 49.4, 50.1, 50.5, 50.0, 51.3, 50.3, 50.8,
    50.5, 51.3, 50.6, 50.5, 50.3, 50.6, 50.9, 50.8, 50.7, 50.5, 50.2, 50.5,
    50.8, 50.7, 50.9, 51.0, 51.3, 51.2, 51.3, 51.1, 51.1, 50.8, 50.8, 51.0,
    51.3, 51.7, 50.8, 51.0, 51.9, 50.9, 50.5, 50.3, 50.2, 50.8, 49.8, 50.2,
    50.7, 51.3, 50.4, 50.5, 50.7, 50.1, 49.7, 49.5, 49.6, 49.2, 49.7, 50.0,
    50.3, 49.9, 49.8, 49.6, 49.5, 49.6, 49.8, 49.3, 49.2, 47.6, 48.4, 49.5,
    50.3, 49.8, 49.5, 48.2, 50.0, 48.7, 49.0, 49.4, 49.8, 49.7, 49.8, 50.0,
    50.0, 51.9, 51.3, 50.0, 49.5, 50.4, 49.2, 48.9, 48.7, 51.9, 51.1, 51.0,
    51.3, 51.7, 52.1, 51.8, 51.6, 51.9, 52.1, 51.5, 50.3, 50.8, 50.8, 50.8,
    50.8,
]
env_max = [
    63.5, 64.8, 64.5, 63.5, 62.8, 62.5, 62.3, 62.4, 62.3, 62.4, 62.5, 62.8,
    65.7, 63.5, 63.0, 63.8, 63.2, 64.0, 63.5, 64.0, 64.5, 65.0, 68.2, 64.5,
    63.8, 63.5, 63.3, 64.0, 71.3, 65.5, 67.5, 68.0, 67.8, 86.5, 65.5, 63.5,
    63.2, 63.0, 62.8, 62.9, 63.0, 63.1, 63.2, 63.3, 63.3, 63.2, 63.5, 63.4,
    63.6, 63.8, 63.5, 64.0, 63.2, 63.0, 64.5, 74.3, 66.5, 70.4, 65.0, 93.1,
    68.5, 65.0, 64.5, 64.8, 64.3, 64.0, 64.5, 65.0, 64.2, 64.0, 64.3, 66.5,
    67.0, 66.0, 65.5, 64.2, 63.8, 63.5, 63.6, 64.0, 64.5, 66.8, 65.0, 66.0,
    64.5, 64.8, 64.5, 65.5, 65.0, 64.0, 65.5, 65.8, 64.5, 64.0, 64.5, 65.0,
    73.3, 64.5, 65.0, 64.5, 74.0, 66.0, 65.5, 65.0, 64.5, 66.0, 65.0, 64.5,
    65.5, 66.0, 64.5, 64.0, 64.0, 63.8, 64.0, 63.8, 87.0, 65.0, 64.0, 64.0,
    64.0, 64.5, 64.5, 65.0, 66.5, 65.0, 65.5, 66.0, 65.5, 66.0, 67.0, 76.1,
    66.5, 67.0, 66.5, 65.0, 64.5, 65.5, 64.5, 64.5, 65.0, 66.0, 67.5, 66.0,
    65.5, 65.0, 67.0, 68.5, 66.0, 67.5, 69.0, 67.0, 72.5, 86.5, 70.0, 68.0,
    67.0, 65.0, 64.5, 65.0, 66.0, 76.2, 71.5, 64.5, 63.5, 63.5, 63.2, 63.5,
    63.5, 64.5, 65.0, 66.0, 65.0, 68.3, 65.5, 66.0, 65.5, 65.0, 65.5, 65.0,
    65.0, 65.5, 66.0, 65.0, 66.0, 67.0, 68.0, 72.0, 68.0, 73.3, 67.0, 73.5,
    66.0, 67.0, 72.0, 66.0, 66.5, 67.0, 68.0, 66.0, 67.5, 66.0, 65.5, 67.0,
    66.5, 70.0, 67.0, 76.4, 74.0, 70.0, 78.0, 79.6, 71.0, 67.0, 66.0, 68.0,
    71.5, 69.0, 73.0, 74.5, 70.0, 75.4, 70.0, 68.5, 74.5, 75.5, 68.0, 67.0,
    68.0, 69.0, 70.0, 79.9, 78.8, 74.0, 73.5, 70.0, 69.0, 68.5, 74.0, 74.0,
    68.5, 75.9, 77.1, 75.0, 69.0, 68.0, 71.0, 67.5, 68.5, 66.5, 65.0, 64.5,
    65.0, 64.5, 68.1, 66.0, 64.5, 64.0, 64.5, 63.8, 64.0, 64.0, 64.0, 65.5,
    66.0, 65.0, 64.5, 64.5, 64.0, 64.0, 64.0, 64.0, 64.5, 74.3, 74.0, 72.5,
    74.3, 73.0, 71.0, 69.5, 72.0, 71.5, 70.5, 69.5, 73.0, 75.1, 63.8, 63.8,
    63.8,
]
# envelope maximum read half-way between the 5-min marks
env_max_b = [
    63.0, 63.5, 65.0, 63.0, 62.5, 62.3, 62.4, 62.2, 62.4, 62.3, 62.5, 63.0,
    63.0, 62.8, 63.5, 65.5, 63.5, 63.0, 64.5, 63.2, 66.5, 64.0, 65.5, 63.8,
    63.5, 63.3, 63.8, 65.0, 67.0, 66.5, 64.5, 68.5, 64.0, 66.0, 63.5, 63.3,
    62.9, 62.8, 62.9, 63.0, 63.0, 63.2, 63.1, 63.3, 63.2, 63.4, 63.3, 63.5,
    63.5, 63.4, 64.5, 63.5, 63.3, 63.2, 65.0, 73.0, 65.0, 64.5, 64.0, 89.0,
    66.0, 64.0, 65.5, 64.0, 64.5, 64.3, 64.2, 64.0, 64.0, 64.3, 63.8, 64.5,
    66.5, 65.5, 64.5, 64.0, 63.6, 64.0, 63.8, 64.5, 64.2, 65.5, 64.5, 65.5,
    64.3, 65.0, 66.0, 64.5, 65.5, 64.5, 64.3, 64.8, 64.2, 64.5, 64.3, 64.5,
    65.5, 64.8, 64.3, 66.0, 66.5, 64.8, 66.0, 64.5, 66.0, 64.5, 65.5, 64.3,
    64.5, 65.5, 64.3, 64.5, 63.8, 64.0, 63.6, 64.0, 65.0, 64.2, 64.5, 64.3,
    64.5, 64.3, 65.5, 67.0, 65.0, 66.0, 65.0, 67.5, 66.0, 67.0, 65.5, 68.0,
    67.5, 65.5, 67.0, 65.5, 66.0, 64.5, 65.5, 66.0, 64.8, 67.0, 65.5, 66.5,
    66.5, 66.0, 65.5, 67.0, 69.0, 66.5, 71.0, 67.5, 70.0, 75.0, 68.0, 67.5,
    65.5, 65.5, 64.0, 64.5, 67.0, 73.0, 68.0, 64.0, 63.5, 63.2, 63.5, 63.3,
    64.0, 64.0, 66.5, 64.5, 66.5, 65.0, 66.0, 65.0, 66.0, 65.5, 65.0, 66.0,
    65.5, 66.0, 65.0, 65.5, 66.5, 68.0, 66.0, 70.0, 70.5, 68.5, 70.0, 67.5,
    68.0, 71.5, 67.0, 67.5, 66.0, 68.5, 66.5, 67.0, 66.0, 67.5, 66.0, 67.0,
    68.0, 66.5, 70.5, 72.0, 69.0, 74.5, 72.0, 76.0, 68.0, 66.5, 67.5, 70.0,
    67.0, 72.0, 70.0, 72.0, 73.0, 69.0, 68.0, 71.5, 72.0, 70.0, 66.5, 69.0,
    70.5, 67.0, 72.5, 76.5, 72.0, 71.0, 70.5, 72.5, 67.0, 71.0, 70.0, 68.5,
    71.0, 73.5, 74.0, 70.0, 71.5, 66.5, 68.5, 66.0, 67.0, 65.0, 66.0, 64.0,
    64.5, 66.0, 65.5, 65.0, 67.0, 64.5, 63.8, 64.5, 63.8, 64.5, 65.0, 64.5,
    64.5, 64.5, 65.0, 64.0, 64.5, 63.8, 64.5, 64.0, 65.0, 70.0, 72.0, 70.5,
    71.5, 70.0, 72.5, 71.0, 69.0, 72.0, 70.0, 71.5, 72.0, 63.8, 63.8, 63.8,
    63.8,
]
env_min = [
    60.5, 60.6, 60.7, 60.7, 60.2, 60.1, 60.0, 60.0, 60.0, 60.0, 60.0, 60.0,
    60.0, 60.0, 60.1, 60.2, 60.4, 60.7, 60.6, 60.5, 60.5, 60.4, 60.4, 60.4,
    60.4, 60.4, 60.5, 60.5, 60.6, 60.6, 60.7, 60.9, 60.7, 61.0, 61.0, 60.2,
    60.4, 60.3, 60.3, 60.4, 60.4, 60.4, 60.5, 60.5, 60.5, 60.6, 60.6, 60.6,
    60.6, 60.6, 60.6, 60.6, 60.5, 60.5, 60.7, 61.5, 61.5, 61.4, 61.0, 61.2,
    61.5, 61.6, 61.5, 61.5, 61.5, 61.4, 61.3, 61.3, 61.3, 61.1, 61.1, 61.5,
    62.0, 62.0, 61.8, 61.3, 61.0, 61.0, 61.0, 61.1, 61.1, 61.6, 61.2, 61.5,
    61.1, 61.2, 61.3, 61.3, 61.2, 61.0, 60.8, 61.2, 61.1, 61.0, 61.0, 61.1,
    61.3, 61.3, 61.2, 60.9, 61.2, 60.9, 60.9, 60.8, 60.7, 60.8, 60.9, 61.0,
    61.0, 61.1, 61.3, 61.1, 61.0, 60.9, 60.9, 60.7, 61.0, 61.1, 61.4, 61.5,
    61.5, 61.5, 61.6, 61.8, 62.0, 61.9, 61.8, 61.9, 62.0, 62.1, 62.1, 61.7,
    61.6, 61.9, 62.1, 61.9, 61.7, 61.6, 61.4, 61.5, 61.6, 61.9, 62.1, 62.1,
    62.1, 61.9, 61.9, 62.5, 62.3, 62.3, 62.3, 62.5, 62.8, 63.0, 63.0, 62.6,
    61.6, 61.5, 61.5, 61.4, 61.4, 62.5, 62.5, 61.3, 61.0, 60.9, 60.9, 60.9,
    60.9, 61.1, 61.3, 61.7, 61.6, 61.9, 61.7, 61.7, 61.8, 61.8, 61.8, 61.9,
    61.9, 62.0, 62.1, 62.3, 62.5, 62.7, 62.9, 62.7, 62.6, 62.7, 62.5, 62.6,
    62.5, 62.6, 62.7, 62.5, 62.3, 62.5, 62.7, 62.6, 62.5, 62.3, 62.2, 62.4,
    62.5, 62.4, 62.4, 63.2, 62.7, 62.9, 63.8, 64.0, 63.0, 62.4, 62.2, 62.6,
    63.0, 63.0, 62.9, 62.7, 62.9, 62.8, 62.7, 62.4, 62.4, 63.5, 62.4, 62.3,
    62.2, 62.4, 62.7, 63.3, 64.2, 63.2, 62.6, 62.4, 62.2, 62.3, 62.8, 62.3,
    62.0, 62.1, 62.2, 62.8, 62.3, 62.0, 61.9, 61.7, 61.4, 61.2, 61.1, 61.2,
    61.3, 61.3, 61.3, 61.4, 61.5, 61.5, 61.4, 61.5, 61.5, 61.5, 61.6, 61.8,
    62.1, 62.0, 61.8, 61.7, 61.6, 61.6, 61.5, 61.6, 61.6, 62.5, 62.1, 62.2,
    62.5, 62.3, 63.3, 63.3, 63.2, 63.4, 63.6, 63.5, 63.8, 63.2, 63.2, 63.2,
    63.2,
]

for _arr in (avg_z, avg_c, avg_a, avg_a_b, peak_z, peak_c, peak_a, peak_z_b, peak_c_b, peak_a_b,
             lvl_z, lvl_c, lvl_a, env_max, env_max_b, env_min):
    assert len(_arr) == N, len(_arr)

Y_TICKS = [36, 48, 60, 72, 84, 96, 108]

times = pd.date_range(START, periods=N, freq=STEP)
times_b = pd.date_range(START_B, periods=N, freq=STEP)


def merged(a, b):
    """Interleave values read on the 5-min marks with those read half-way between."""
    s = pd.concat([pd.Series(a, index=times, dtype="float64"),
                   pd.Series(b, index=times_b, dtype="float64")]).sort_index()
    return s


avg_a_all = merged(avg_a, avg_a_b)
env_max_all = merged(env_max, env_max_b)
peak_z_all = merged(peak_z, peak_z_b)
peak_c_all = merged(peak_c, peak_c_b)
peak_a_all = merged(peak_a, peak_a_b)

# ---------------- layout geometry (pixels) ----------------
W, H = 2400, 1200
ML, MR, MT, MB = 59, 57, 84, 50
PW, PH = W - ML - MR, H - MT - MB


def fx(p):
    return (p - ML) / PW


def fy(p):
    return (H - MB - p) / PH


FONT = "DejaVu Sans"
BG = "#FFF8DC"

fig = go.Figure()

# top: peaks (data traces, legend shown through proxies below)
for s, col in [(peak_z_all, "#1E90FF"), (peak_c_all, "#FF00FF"), (peak_a_all, "#2E8B57")]:
    fig.add_trace(go.Scatter(x=s.index, y=s.values, mode="markers", showlegend=False,
                             marker=dict(color=col, size=3.4, symbol="circle"),
                             xaxis="x", yaxis="y"))
# top: averages
fig.add_trace(go.Scatter(x=times, y=avg_z, mode="lines", showlegend=False,
                         line=dict(color="#4682B4", width=1.3), xaxis="x", yaxis="y"))
fig.add_trace(go.Scatter(x=times, y=avg_c, mode="lines", showlegend=False,
                         line=dict(color="#DA70D6", width=1.3), xaxis="x", yaxis="y"))
fig.add_trace(go.Scatter(x=avg_a_all.index, y=avg_a_all.values, mode="lines", showlegend=False,
                         line=dict(color="#9ACD32", width=1.3), xaxis="x", yaxis="y3"))

# bottom: envelope
fig.add_trace(go.Scatter(x=times, y=env_min, mode="lines", line=dict(width=0, color="rgba(0,0,0,0)"),
                         showlegend=False, hoverinfo="skip", xaxis="x2", yaxis="y2"))
fig.add_trace(go.Scatter(x=env_max_all.index, y=env_max_all.values, mode="lines", fill="tonexty",
                         fillcolor="rgba(240,120,130,0.20)",
                         line=dict(width=0.8, color="rgba(240,120,130,0.30)"),
                         showlegend=False, hoverinfo="skip", xaxis="x2", yaxis="y2"))
fig.add_trace(go.Scatter(x=times, y=lvl_z, mode="lines", showlegend=False,
                         line=dict(color="#DC143C", width=1.6), xaxis="x2", yaxis="y2"))
fig.add_trace(go.Scatter(x=times, y=lvl_c, mode="lines", showlegend=False,
                         line=dict(color="#FF8C00", width=1.6), xaxis="x2", yaxis="y2"))
fig.add_trace(go.Scatter(x=times, y=lvl_a, mode="lines", showlegend=False,
                         line=dict(color="#FFD700", width=1.6), xaxis="x2", yaxis="y4"))

# legend entries (no data; they only carry the legend symbols)
for name, col in [("peak dB(Z)", "#1E90FF"), ("peak dB(C)", "#FF00FF"), ("peak dB(A)", "#2E8B57")]:
    fig.add_trace(go.Scatter(x=[None], y=[None], mode="markers", name=name,
                             marker=dict(color=col, size=5), xaxis="x", yaxis="y", legend="legend"))
for name, col in [("avg dB(Z)", "#4682B4"), ("avg dB(C)", "#DA70D6"), ("avg dB(A)", "#9ACD32")]:
    fig.add_trace(go.Scatter(x=[None], y=[None], mode="lines", name=name,
                             line=dict(color=col, width=4), xaxis="x", yaxis="y", legend="legend2"))
for name, col in [("dB(Z)", "#DC143C"), ("dB(C)", "#FF8C00"), ("dB(A)", "#FFD700")]:
    fig.add_trace(go.Scatter(x=[None], y=[None], mode="lines", name=name,
                             line=dict(color=col, width=4), xaxis="x2", yaxis="y2", legend="legend3"))

tickfont = dict(family=FONT, size=8.5, color="black")
titlefont = dict(family=FONT, size=11.5, color="black")


def xaxis(fmt, anchor, standoff):
    return dict(type="date", range=[START, END_VIEW], tick0=START, dtick=7200000,
                tickformat=fmt, ticks="outside", ticklen=6, tickwidth=1, tickcolor="black",
                tickfont=tickfont, showgrid=True, gridcolor="#b4b4b4", gridwidth=1,
                showline=True, linecolor="black", linewidth=1.5, mirror=True, zeroline=False,
                minor=dict(tick0=START, dtick=1800000, ticks="outside", ticklen=3,
                           tickcolor="black", showgrid=True, gridcolor="#d4ccb6",
                           griddash="dot", gridwidth=1),
                anchor=anchor, domain=[0, 1], automargin=False,
                title=dict(text="time", font=titlefont, standoff=standoff))


def yaxis(domain, anchor):
    return dict(range=[36, 108], tickvals=Y_TICKS, ticks="outside", ticklen=6, tickwidth=1,
                tickcolor="black", tickfont=tickfont, showgrid=True, gridcolor="#b0b0b0",
                gridwidth=1.6, showline=True, linecolor="black", linewidth=1.5, mirror=True,
                zeroline=False, domain=domain, anchor=anchor, automargin=False,
                minor=dict(tick0=36, dtick=4, ticks="outside", ticklen=3, tickcolor="black",
                           showgrid=True, gridcolor="#c8c0b0", griddash="dash", gridwidth=0.8),
                title=dict(text="dB SPL", font=titlefont, standoff=6))


def yaxis_right(over, anchor):
    return dict(range=[36, 108], tickvals=Y_TICKS, ticks="outside", ticklen=6, tickwidth=1,
                tickcolor="black", tickfont=tickfont, showgrid=False, showline=False,
                zeroline=False, overlaying=over, side="right", anchor=anchor, automargin=False,
                minor=dict(tick0=36, dtick=4, ticks="outside", ticklen=3, tickcolor="black",
                           showgrid=False),
                title=dict(text="dB SPL", font=titlefont, standoff=12))


top_dom = [fy(588), 1.0]
bot_dom = [0.0, fy(644)]

legend_common = dict(bgcolor="rgba(0,0,0,0)", borderwidth=0, font=dict(family=FONT, size=10, color="black"),
                     xanchor="left", yanchor="top", tracegroupgap=0, itemwidth=30, traceorder="normal")

fig.update_layout(
    width=W, height=H, autosize=False,
    margin=dict(l=ML, r=MR, t=MT, b=MB, pad=0),
    paper_bgcolor="white", plot_bgcolor=BG,
    font=dict(family=FONT, color="black"),
    showlegend=True,
    xaxis=xaxis("%H:%M", "y", 9),
    xaxis2=xaxis("%H:%M:%S", "y2", 8),
    yaxis=yaxis(top_dom, "x"),
    yaxis2=yaxis(bot_dom, "x2"),
    yaxis3=yaxis_right("y", "x"),
    yaxis4=yaxis_right("y2", "x2"),
    legend=dict(legend_common, x=fx(2146), y=fy(521)),
    legend2=dict(legend_common, x=fx(2246), y=fy(521)),
    legend3=dict(legend_common, x=fx(2268), y=fy(1081)),
    shapes=[
        dict(type="rect", xref="paper", yref="paper", x0=fx(2155), x1=fx(2338), y0=fy(583), y1=fy(518),
             line=dict(color="#e2c9a2", width=1.2), fillcolor="rgba(255,248,220,0.85)", layer="above"),
        dict(type="rect", xref="paper", yref="paper", x0=fx(2277), x1=fx(2338), y0=fy(1144), y1=fy(1078),
             line=dict(color="#e2c9a2", width=1.2), fillcolor="rgba(255,248,220,0.85)", layer="above"),
    ],
    annotations=[
        dict(text="<b>data from [421/mic0]</b>", xref="paper", yref="paper", x=fx(24), y=fy(19),
             xanchor="left", yanchor="middle", showarrow=False, font=dict(family=FONT, size=13.7, color="black")),
        dict(text="<b>starting point is [20231206_000059]</b>", xref="paper", yref="paper", x=fx(24), y=fy(34),
             xanchor="left", yanchor="middle", showarrow=False, font=dict(family=FONT, size=13.7, color="black")),
        dict(text="<b>average and peak noise level (1 min sampling)</b>", xref="paper", yref="paper",
             x=fx(57), y=fy(70), xanchor="left", yanchor="middle", showarrow=False,
             font=dict(family=FONT, size=11.7, color="black")),
        dict(text="<b>average noise level (5 min with 15s min/max dB envelope)</b>", xref="paper", yref="paper",
             x=fx(57), y=fy(632), xanchor="left", yanchor="middle", showarrow=False,
             font=dict(family=FONT, size=11.7, color="black")),
    ],
)

fig.write_html("out.html", config={"displayModeBar": False},
               post_script="document.body.style.margin='0px';")
